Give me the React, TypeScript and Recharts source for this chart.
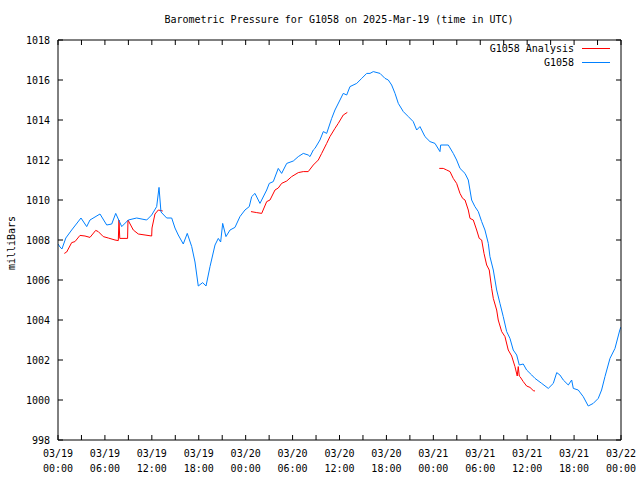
import React from 'react';
import { LineChart, Line, XAxis, YAxis } from 'recharts';

const titleText = 'Barometric Pressure for G1058 on 2025-Mar-19 (time in UTC)';
const yAxisTitle = 'milliBars';
const seriesNames = ['G1058 Analysis', 'G1058'];
const seriesColors = ['#ff0000', '#0080ff'];

const blueHours = [
  0, 0.26, 0.5, 1.0, 1.75, 2.94, 3.67, 4.09, 5.37, 6.23, 6.87, 7.38, 8.15, 8.99, 10.06, 11.34, 11.98,
  12.62, 12.92, 13.17, 13.9, 14.54, 14.96, 15.38, 16.02, 16.53, 17.1, 17.52, 17.94, 18.5, 18.93, 19.44,
  20.08, 20.5, 20.8, 21.06, 21.48, 22.0, 22.63, 23.27, 23.91, 24.46, 24.77, 25.19, 25.83, 26.69, 27.02,
  27.53, 28.17, 28.6, 29.25, 30.09, 30.73, 31.37, 32.0, 32.23, 32.65, 32.86, 33.5, 33.93, 34.36, 35.0,
  35.42, 36.06, 36.48, 36.92, 37.34, 38.2, 38.84, 39.48, 39.9, 40.32, 41.18, 41.82, 42.24, 42.67, 43.1,
  43.52, 44.16, 44.8, 45.43, 45.87, 46.29, 46.93, 47.57, 48.21, 48.85, 48.94, 49.91, 50.55, 50.98, 51.41,
  52.05, 52.47, 52.9, 53.32, 53.75, 54.18, 54.6, 55.03, 55.24, 55.67, 56.1, 56.52, 56.94, 57.38, 57.8,
  58.22, 58.66, 58.99, 59.5, 59.93, 60.58, 61.0, 61.86, 62.7, 63.34, 63.78, 64.19, 64.62, 65.26, 65.69,
  65.9, 66.53, 67.17, 67.81, 68.45, 69.09, 69.52, 69.95, 70.59, 71.23, 71.87, 72
];
const blueValues = [
  1007.8, 1007.65, 1007.55, 1008.1, 1008.5, 1009.1, 1008.67, 1009.0, 1009.3, 1008.75, 1008.8, 1009.33, 1008.67, 1009.0, 1009.1, 1009.0, 1009.25,
  1009.67, 1010.63, 1009.4, 1009.1, 1009.1, 1008.6, 1008.25, 1007.8, 1008.33, 1007.67, 1006.9, 1005.7, 1005.87, 1005.7, 1006.67,
  1007.75, 1008.08, 1007.9, 1008.83, 1008.17, 1008.5, 1008.63, 1009.17, 1009.5, 1009.67, 1010.17, 1010.33, 1009.83, 1010.5, 1010.83,
  1010.92, 1011.58, 1011.33, 1011.83, 1011.95, 1012.17, 1012.33, 1012.25, 1012.17, 1012.5, 1012.58, 1013.0, 1013.42, 1013.33, 1014.08,
  1014.5, 1015.0, 1015.33, 1015.25, 1015.67, 1015.83, 1016.08, 1016.33, 1016.33, 1016.42, 1016.33, 1016.08, 1016.0, 1015.75, 1015.33,
  1014.83, 1014.42, 1014.17, 1013.92, 1013.5, 1013.67, 1013.17, 1012.92, 1012.83, 1012.42, 1012.75, 1012.75, 1012.33, 1012.0, 1011.58,
  1011.33, 1011.0, 1010.0, 1009.67, 1009.42, 1008.92, 1008.5, 1007.83, 1007.17, 1006.5, 1005.5, 1004.83, 1004.17, 1003.42, 1003.08,
  1002.5, 1002.25, 1001.75, 1001.8, 1001.5, 1001.25, 1001.08, 1000.83, 1000.58, 1000.83, 1001.37, 1001.25, 1001.0, 1000.75, 1001.0,
  1000.58, 1000.5, 1000.17, 999.7, 999.83, 1000.08, 1000.5, 1001.17, 1002.08, 1002.58, 1003.53, 1003.65
];

const redHours = [
  0.81, 1.11, 1.75, 2.17, 2.81, 3.45, 4.09, 4.82, 5.15, 5.79, 6.43, 7.29, 7.71, 7.8, 7.9, 8.9, 8.95, 9.63,
  10.27, 11.13, 11.98, 12.02, 12.4, 12.83, 13.4,
  18.0,
  24.68, 25.41, 26.05, 26.69, 27.11, 27.75, 28.17, 28.6, 29.25, 29.88, 30.73, 31.37, 32.0, 32.65, 33.29,
  33.72, 34.36, 34.78, 35.42, 35.84, 36.48, 37.0,
  42.0,
  48.76, 49.27, 49.71, 50.13, 50.55, 50.98, 51.41, 51.75, 52.05, 52.47, 52.69, 53.11, 53.54, 53.87, 54.18,
  54.48, 54.82, 55.15, 55.46, 55.67, 56.1, 56.3, 56.74, 57.16, 57.58, 58.02, 58.44, 58.73, 58.86, 58.99,
  59.08, 59.5, 59.93, 60.36, 60.78, 61.0
];
const redValues: (number | null)[] = [
  1007.33, 1007.4, 1007.87, 1007.92, 1008.23, 1008.2, 1008.13, 1008.48, 1008.42, 1008.17, 1008.1, 1008.0, 1007.97, 1009.0, 1008.08, 1008.08, 1009.0, 1008.5,
  1008.3, 1008.25, 1008.2, 1008.6, 1009.3, 1009.5, 1009.45,
  null,
  1009.42, 1009.37, 1009.33, 1009.92, 1010.0, 1010.5, 1010.6, 1010.83, 1010.95, 1011.17, 1011.37, 1011.42, 1011.42, 1011.75, 1012.0,
  1012.33, 1012.83, 1013.17, 1013.58, 1013.83, 1014.25, 1014.38,
  null,
  1011.58, 1011.58, 1011.5, 1011.42, 1011.08, 1010.83, 1010.33, 1010.08, 1010.0, 1009.5, 1009.08, 1009.0, 1008.5, 1008.08, 1008.0,
  1007.33, 1006.75, 1006.5, 1005.58, 1005.08, 1004.5, 1004.0, 1003.42, 1003.17, 1002.5, 1002.2, 1001.67, 1001.2, 1001.67, 1001.2,
  1001.17, 1000.92, 1000.7, 1000.63, 1000.47, 1000.45
];

const xTicks = [0, 3, 6, 9, 12, 15, 18, 21, 24, 27, 30, 33, 36, 39, 42, 45, 48, 51, 54, 57, 60, 63, 66, 69, 72];
const xDateLabels = ['03/19', '03/19', '03/19', '03/19', '03/20', '03/20', '03/20', '03/20', '03/21', '03/21', '03/21', '03/21', '03/22'];
const xTimeLabels = ['00:00', '06:00', '12:00', '18:00', '00:00', '06:00', '12:00', '18:00', '00:00', '06:00', '12:00', '18:00', '00:00'];
const yTicks = [998, 1000, 1002, 1004, 1006, 1008, 1010, 1012, 1014, 1016, 1018];

const blueData = blueHours.map((t, i) => ({ t, v: blueValues[i] }));
const redData = redHours.map((t, i) => ({ t, v: redValues[i] }));

const FONT = '"DejaVu Sans Mono", "Liberation Mono", monospace';

const XTick = (props: any) => {
  const { x, y, payload } = props;
  const idx = payload.value / 6;
  if (!Number.isInteger(idx)) return <g />;
  return (
    <text x={x} y={y} textAnchor="middle" fontFamily={FONT} fontSize={10} fill="#000">
      <tspan x={x} dy={9}>{xDateLabels[idx]}</tspan>
      <tspan x={x} dy={15}>{xTimeLabels[idx]}</tspan>
    </text>
  );
};

const YTick = (props: any) => {
  const { x, y, payload } = props;
  return (
    <text x={x} y={y} dy={4} textAnchor="end" fontFamily={FONT} fontSize={10} fill="#000">
      {payload.value}
    </text>
  );
};

const EmptyTick = () => <g />;

export default function App() {
  return (
    <div style={{ position: 'absolute', left: 0, top: 0, width: 640, height: 480, background: '#fff' }}>
      <LineChart width={640} height={480} margin={{ top: 0, right: 0, bottom: 0, left: 0 }}>
        <XAxis
          dataKey="t"
          type="number"
          domain={[0, 72]}
          ticks={xTicks}
          interval={0}
          height={40}
          stroke="#000"
          tickSize={-5}
          tickMargin={13}
          tick={XTick}
          allowDataOverflow
        />
        <XAxis
          xAxisId="top"
          dataKey="t"
          orientation="top"
          type="number"
          domain={[0, 72]}
          ticks={xTicks}
          interval={0}
          height={40}
          stroke="#000"
          tickSize={-5}
          tick={EmptyTick}
          allowDataOverflow
        />
        <YAxis
          type="number"
          domain={[998, 1018]}
          ticks={yTicks}
          interval={0}
          width={58}
          stroke="#000"
          tickSize={-5}
          tickMargin={13}
          tick={YTick}
          allowDataOverflow
        />
        <YAxis
          yAxisId="right"
          orientation="right"
          type="number"
          domain={[998, 1018]}
          ticks={yTicks}
          interval={0}
          width={19}
          stroke="#000"
          tickSize={-5}
          tick={EmptyTick}
          allowDataOverflow
        />
        <Line
          data={blueData}
          dataKey="v"
          xAxisId="top"
          yAxisId="right"
          type="linear"
          stroke="none"
          strokeWidth={0}
          dot={false}
          activeDot={false}
          legendType="none"
          isAnimationActive={false}
        />
        <Line
          data={redData}
          dataKey="v"
          name={seriesNames[0]}
          type="linear"
          stroke={seriesColors[0]}
          strokeWidth={1}
          dot={false}
          activeDot={false}
          connectNulls={false}
          isAnimationActive={false}
        />
        <Line
          data={blueData}
          dataKey="v"
          name={seriesNames[1]}
          type="linear"
          stroke={seriesColors[1]}
          strokeWidth={1}
          dot={false}
          activeDot={false}
          isAnimationActive={false}
        />
      </LineChart>
      <svg width={640} height={480} style={{ position: 'absolute', left: 0, top: 0, pointerEvents: 'none' }}>
        <text x={339} y={23} textAnchor="middle" fontFamily={FONT} fontSize={10} fill="#000">{titleText}</text>
        <text x={15} y={243} textAnchor="middle" fontFamily={FONT} fontSize={10} fill="#000" transform="rotate(-90 15 243)">{yAxisTitle}</text>
        {seriesNames.map((n, i) => (
          <g key={n}>
            <text x={574} y={52 + i * 14} textAnchor="end" fontFamily={FONT} fontSize={10} fill="#000">{n}</text>
            <line x1={582} x2={610} y1={48.5 + i * 14} y2={48.5 + i * 14} stroke={seriesColors[i]} strokeWidth={1} />
          </g>
        ))}
      </svg>
    </div>
  );
}
